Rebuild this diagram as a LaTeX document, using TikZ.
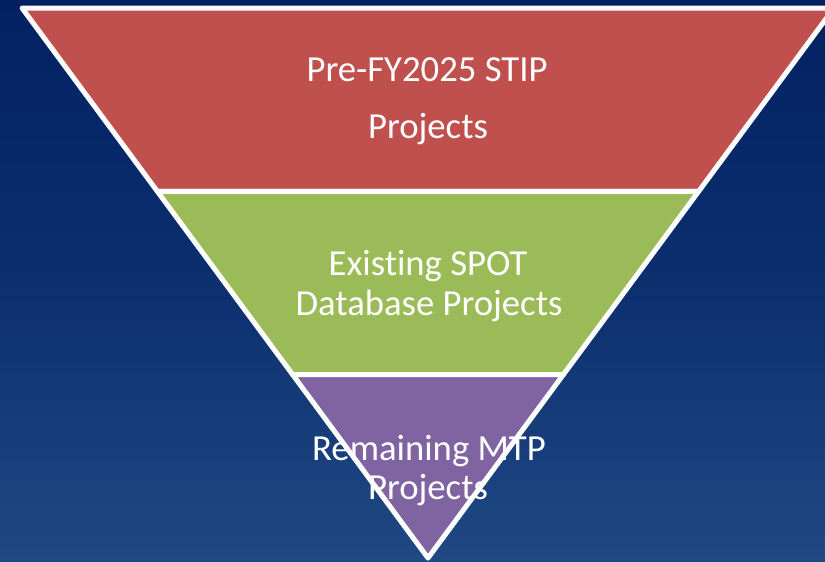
\documentclass[tikz,border=0pt]{standalone}
\usepackage{fontspec}
\setmainfont{Carlito}[Ligatures=NoCommon, RawFeature={-liga;-clig;-dlig}]
\definecolor{bgtop}{HTML}{022163}
\definecolor{bgbot}{HTML}{1F4983}
\definecolor{segred}{HTML}{C0504D}
\definecolor{seggreen}{HTML}{9BBB59}
\definecolor{segpurple}{HTML}{8064A2}
\tikzset{
  seg/.style={draw=white, line width=5pt, line join=round},
  lbl/.style={text=white, font=\fontsize{36.7}{40}\selectfont, anchor=base, inner sep=0pt}
}
\begin{document}
\begin{tikzpicture}[x=1pt,y=-1pt]
\path[use as bounding box] (0,0) rectangle (825,562);
\shade[top color=bgtop, bottom color=bgbot, middle color=bgtop!65!bgbot] (0,0) rectangle (825,562);
\begin{scope}
\clip (0,0) rectangle (825,562);
\coordinate (tl) at (22,8);
\coordinate (tr) at (834,8);
\coordinate (l1) at (157.33,191.33);
\coordinate (r1) at (698.67,191.33);
\coordinate (l2) at (292.67,374.67);
\coordinate (r2) at (563.33,374.67);
\coordinate (ap) at (428,558);
\filldraw[seg, fill=segred] (tl) -- (tr) -- (r1) -- (l1) -- cycle;
\filldraw[seg, fill=seggreen] (l1) -- (r1) -- (r2) -- (l2) -- cycle;
\filldraw[seg, fill=segpurple] (l2) -- (r2) -- (ap) -- cycle;
\end{scope}
\node[lbl] (t1) at (427,81) {Pre-FY2025 STIP};
\node[lbl] (t2) at (428,138) {Projects};
\node[lbl] (t3) at (428,275) {Exist\kern0pt ing SPOT};
\node[lbl] (t4) at (429,315) {Database Projects};
\node[lbl] (t5) at (429,460) {Remaining MTP};
\node[lbl] (t6) at (428,499) {Projects};
\end{tikzpicture}
\end{document}
